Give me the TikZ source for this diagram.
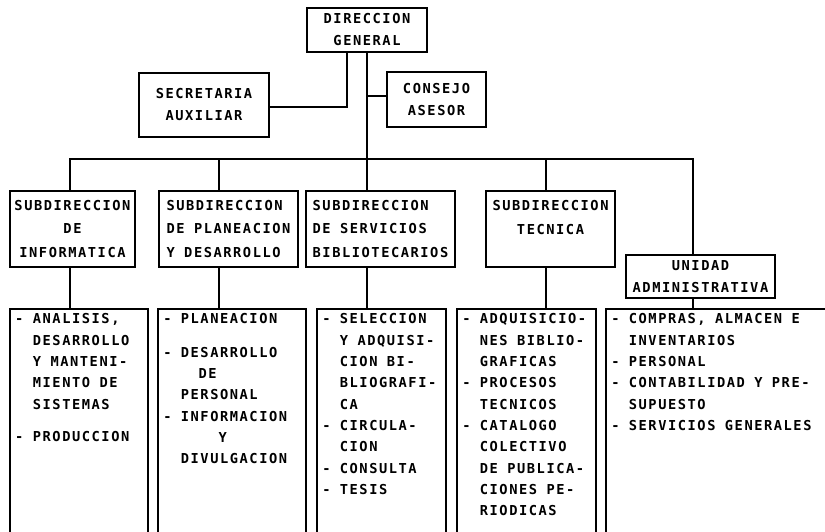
\documentclass[tikz,border=0pt]{standalone}
\usepackage{fontspec}
\newfontfamily\plotter{DejaVu Sans Mono}[LetterSpace=11.3]
\usetikzlibrary{positioning}

\newcommand{\rotulo}[1]{\plotter\bfseries\fontsize{13.7}{#1}\selectfont}
% espacio igual al paso de letra
\newcommand{\esp}{\leavevmode\hspace*{9.4pt}}
\newcommand{\sangria}{\hphantom{-}\esp}

\begin{document}
\begin{tikzpicture}[x=1pt,y=-1pt,line width=1.5pt,
  caja/.style={draw,font=\rotulo{22},align=center,inner sep=4pt},
  subcaja/.style={caja,minimum height=76pt,font=\rotulo{23.5}},
  lista/.style={draw,anchor=north west,align=left,inner xsep=5.5pt,inner ysep=5pt,
    text depth=240pt,font=\rotulo{21.3}}]
\useasboundingbox (0,0) rectangle (825,531);
\clip (0,0) rectangle (825,531);

% direccion y staff
\node[caja,minimum width=120pt,minimum height=44pt] (dg) at (367,30) {DIRECCION\\GENERAL};
\node[caja,minimum width=130pt,minimum height=64pt] (sec) at (204,105) {SECRETARIA\\AUXILIAR};
\node[caja,minimum width=99pt,minimum height=55pt] (con) at (436.5,99.5) {CONSEJO\\ASESOR};

% subdirecciones
\node[subcaja,minimum width=125pt] (inf) at (72.5,229) {SUBDIRECCION\\DE\\INFORMATICA};
\node[subcaja,minimum width=139pt,align=left] (pla) [right=22.5pt of inf] {SUBDIRECCION\\DE\esp PLANEACION\\Y\esp DESARROLLO};
\node[subcaja,minimum width=149pt,align=left] (ser) [right=6.5pt of pla] {SUBDIRECCION\\DE\esp SERVICIOS\\BIBLIOTECARIOS};
\node[subcaja,minimum width=129pt] (tec) [right=29.5pt of ser] {SUBDIRECCION\\TECNICA\\\esp};
\node[caja,minimum width=149pt,minimum height=43pt] (uni) at (700.5,276.5) {UNIDAD\\ADMINISTRATIVA};

% funciones
\node[lista,text width=127pt] (b1) at (9,308) {-\esp ANALISIS,\\\sangria DESARROLLO\\\sangria Y\esp MANTENI-\\\sangria MIENTO\esp DE\\\sangria SISTEMAS\\[11pt]-\esp PRODUCCION};
\node[lista,text width=137pt] (b2) at (157,308) {-\esp PLANEACION\\[12pt]-\esp DESARROLLO\\\sangria\hphantom{-}\esp DE\\\sangria PERSONAL\\-\esp INFORMACION\\\sangria\hphantom{----}Y\\\sangria DIVULGACION};
\node[lista,text width=118pt] (b3) at (316,308) {-\esp SELECCION\\\sangria Y\esp ADQUISI-\\\sangria CION\esp BI-\\\sangria BLIOGRAFI-\\\sangria CA\\-\esp CIRCULA-\\\sangria CION\\-\esp CONSULTA\\-\esp TESIS};
\node[lista,text width=128pt] (b4) at (456,308) {-\esp ADQUISICIO-\\\sangria NES\esp BIBLIO-\\\sangria GRAFICAS\\-\esp PROCESOS\\\sangria TECNICOS\\-\esp CATALOGO\\\sangria COLECTIVO\\\sangria DE\esp PUBLICA-\\\sangria CIONES\esp PE-\\\sangria RIODICAS};
\node[lista,text width=228pt] (b5) at (605,308) {-\esp COMPRAS,\esp ALMACEN\esp E\\\sangria INVENTARIOS\\-\esp PERSONAL\\-\esp CONTABILIDAD\esp Y\esp PRE-\\\sangria SUPUESTO\\-\esp SERVICIOS\esp GENERALES};

% lineas
\coordinate (bus) at (367,159);
\draw ([xshift=-20pt]dg.south) |- ([yshift=-2pt]sec.east);
\draw (dg.south) -- (dg.south |- ser.north);
\draw ([yshift=3.5pt]dg.south |- con.west) -- ([yshift=3.5pt]con.west);
\foreach \n/\dx in {inf/-2.5,pla/-9.5,tec/-4.5,uni/-7.5}
  \draw ([xshift=\dx pt]\n.north) |- (bus);
\foreach \n/\m/\dx in {inf/b1/-2.5,pla/b2/-9.5,ser/b3/-13.5,tec/b4/-4.5,uni/b5/-7.5}
  \draw ([xshift=\dx pt]\n.south) -- ([xshift=\dx pt]\n.south |- \m.north);
\end{tikzpicture}
\end{document}
